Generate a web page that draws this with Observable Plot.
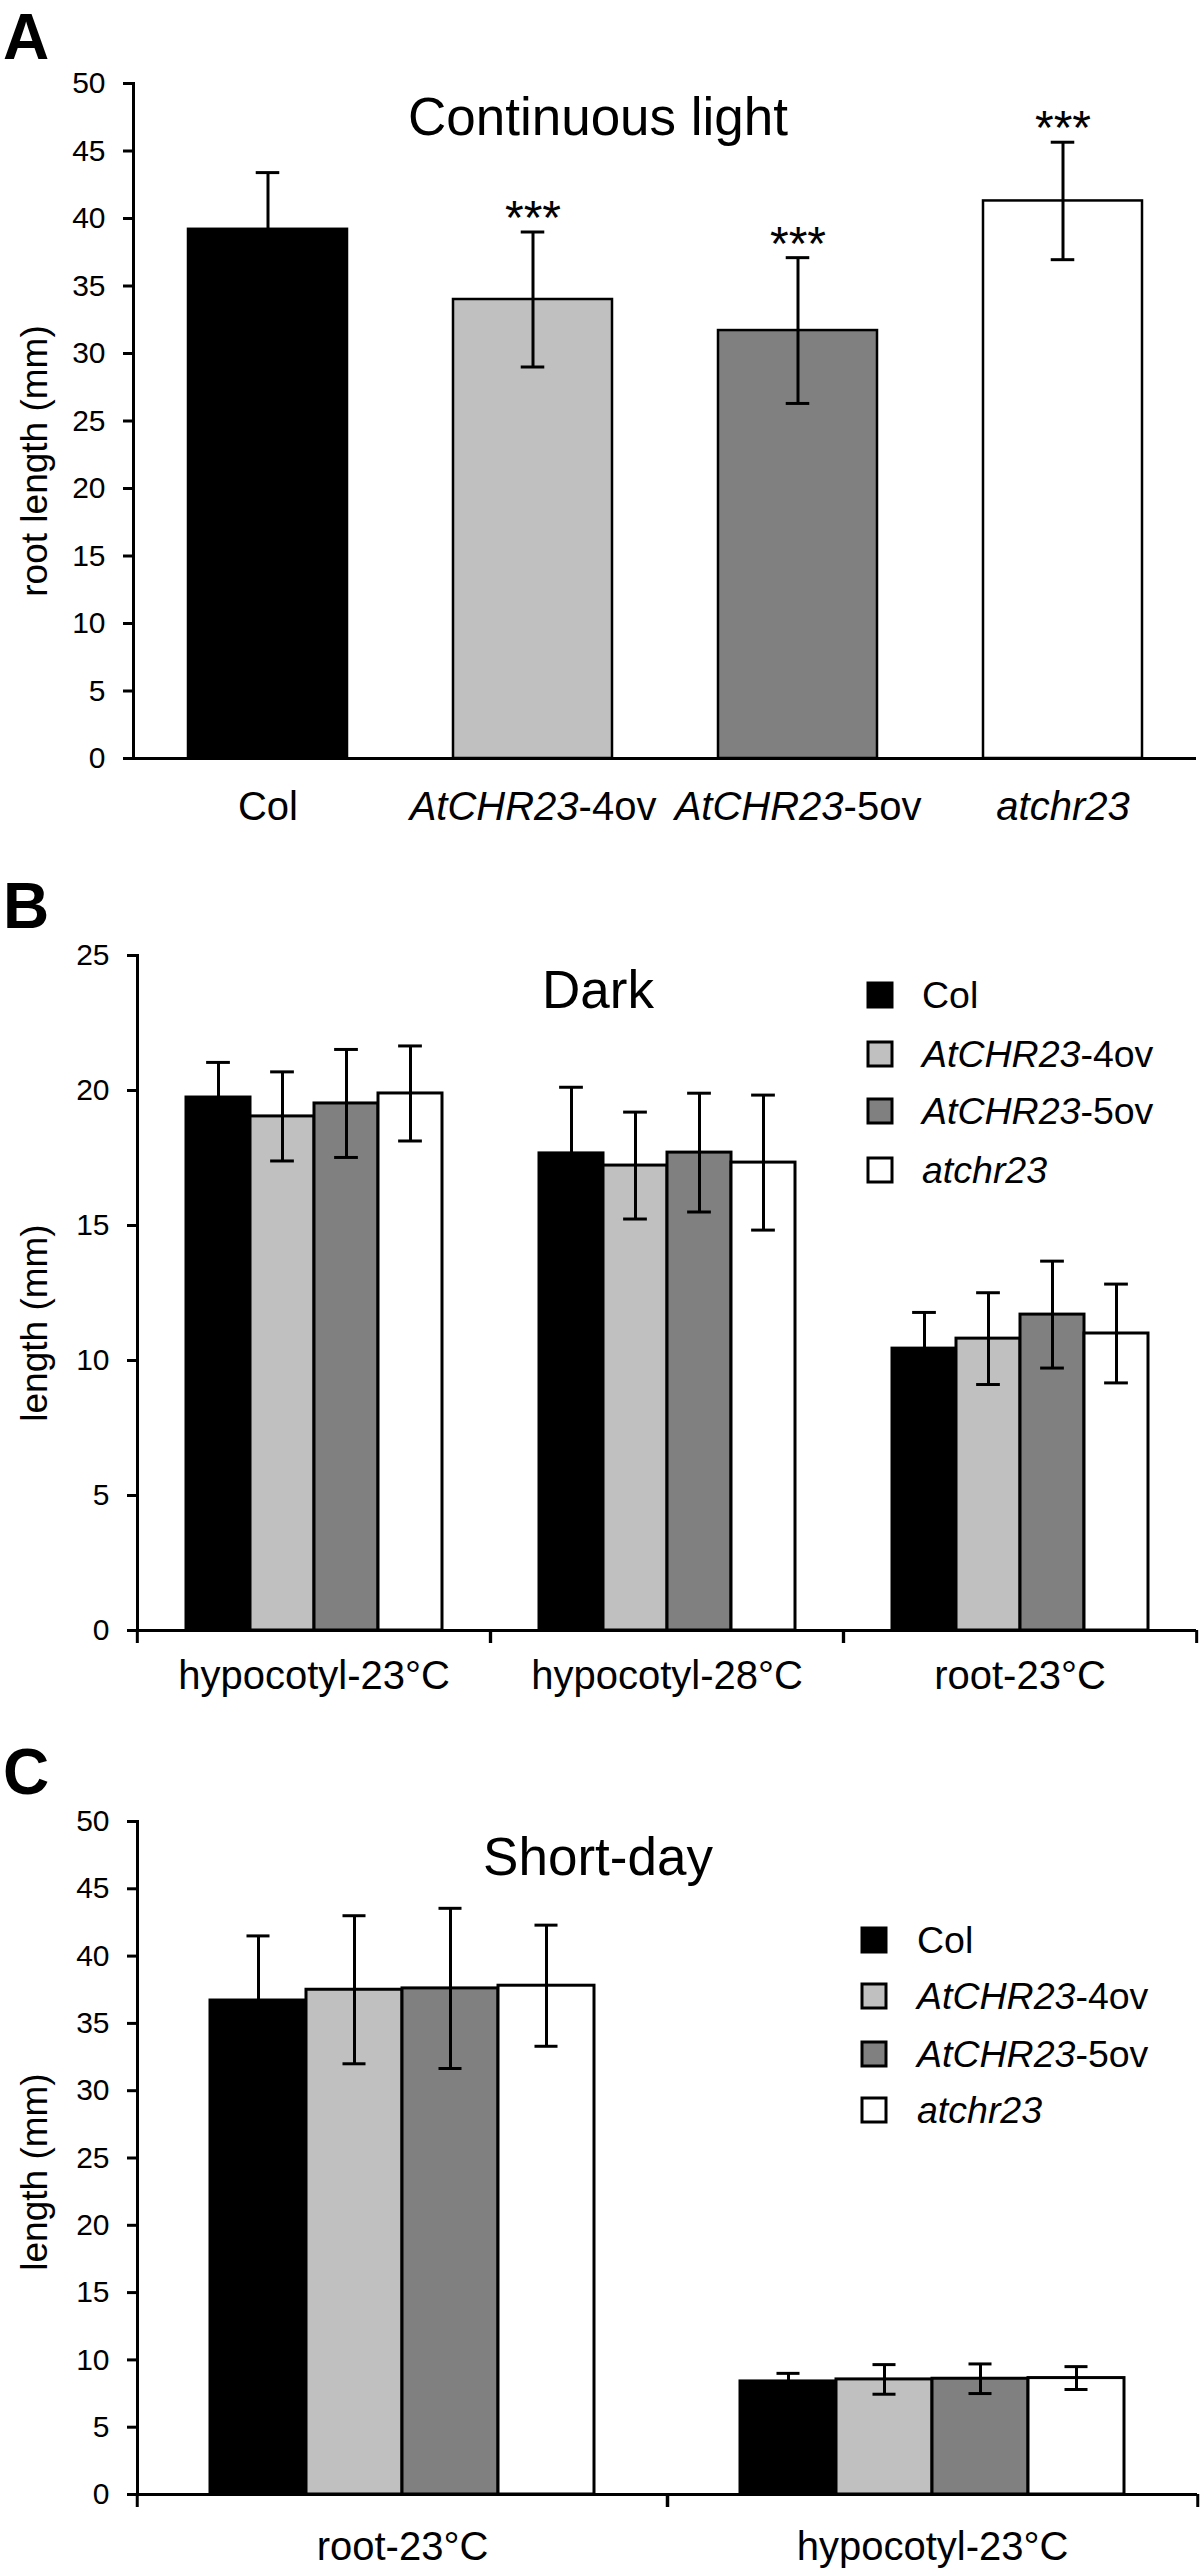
<!DOCTYPE html>
<html><head><meta charset="utf-8">
<script src="https://cdn.jsdelivr.net/npm/d3@7"></script>
<script src="https://cdn.jsdelivr.net/npm/@observablehq/plot@0.6"></script>
<style>
html,body{margin:0;padding:0;background:#fff;}
#root{position:relative;width:1200px;height:2571px;background:#fff;font-family:"Liberation Sans",Arial,Helvetica,sans-serif;}
.panel{position:absolute;left:0;}
#overlay{position:absolute;left:0;top:0;pointer-events:none;}
</style></head><body><div id="root"></div>
<script>
const FONT = '"Liberation Sans", Arial, Helvetica, sans-serif';

// ---- shared ----
const genotypes = ["Col", "AtCHR23-4ov", "AtCHR23-5ov", "atchr23"];
const fills = ["#000000", "#c0c0c0", "#808080", "#ffffff"];

// ---- Panel A : Continuous light ----
const aTitle = "Continuous light";
const aMeans = [39.2, 34.0, 31.7, 41.3];
const aErrors = [4.2, 5.0, 5.4, 4.35];
const aStars = ["", "***", "***", "***"];
const aTicks = [0, 5, 10, 15, 20, 25, 30, 35, 40, 45, 50];
const aYLabel = "root length (mm)";

// ---- Panel B : Dark ----
const bTitle = "Dark";
const bGroups = ["hypocotyl-23°C", "hypocotyl-28°C", "root-23°C"];
const bMeans = [[19.74, 19.04, 19.52, 19.89], [17.67, 17.22, 17.70, 17.33], [10.44, 10.81, 11.70, 11.00]];
const bErrors = [[1.30, 1.65, 2.00, 1.76], [2.45, 1.98, 2.20, 2.50], [1.34, 1.70, 1.98, 1.83]];
const bTicks = [0, 5, 10, 15, 20, 25];
const bYLabel = "length (mm)";

// ---- Panel C : Short-day ----
const cTitle = "Short-day";
const cGroups = ["root-23°C", "hypocotyl-23°C"];
const cMeans = [[36.7, 37.5, 37.6, 37.8], [8.40, 8.55, 8.60, 8.65]];
const cErrors = [[4.8, 5.5, 5.95, 4.5], [0.6, 1.1, 1.1, 0.85]];
const cTicks = [0, 5, 10, 15, 20, 25, 30, 35, 40, 45, 50];
const cYLabel = "length (mm)";

const W = 1200, CAP = 24;

function rowsGrouped(groups, means, errs) {
  const out = [];
  groups.forEach((g, i) => genotypes.forEach((gt, j) => out.push({group: g, genotype: gt, mean: means[i][j], err: errs[i][j]})));
  return out;
}
const aRows = genotypes.map((gt, j) => ({genotype: gt, mean: aMeans[j], err: aErrors[j], star: aStars[j]}));
const bRows = rowsGrouped(bGroups, bMeans, bErrors);
const cRows = rowsGrouped(cGroups, cMeans, cErrors);

const colorScale = {domain: genotypes, range: fills};

// ---------- Panel A ----------
const aM = {l: 133, r: 4, t: 83, b: 92, h: 850};
const aPI = 0.4, aPO = 0.2;
const aBW = (W - aM.l - aM.r) / (genotypes.length - aPI + 2 * aPO) * (1 - aPI);
const aInset = (aBW - CAP) / 2;
const plotA = Plot.plot({
  width: W, height: aM.h,
  marginLeft: aM.l, marginRight: aM.r, marginTop: aM.t, marginBottom: aM.b,
  style: {fontFamily: FONT, background: "white", color: "black", overflow: "visible"},
  x: {domain: genotypes, paddingInner: aPI, paddingOuter: aPO},
  y: {domain: [0, 50]},
  color: colorScale,
  marks: [
    Plot.barY(aRows, {x: "genotype", y: "mean", fill: "genotype", stroke: "black", strokeWidth: 2.5}),
    Plot.ruleX(aRows, {x: "genotype", y1: d => d.mean - d.err, y2: d => d.mean + d.err, stroke: "black", strokeWidth: 3}),
    Plot.tickY(aRows, {x: "genotype", y: d => d.mean + d.err, insetLeft: aInset, insetRight: aInset, stroke: "black", strokeWidth: 3}),
    Plot.tickY(aRows, {x: "genotype", y: d => d.mean - d.err, insetLeft: aInset, insetRight: aInset, stroke: "black", strokeWidth: 3}),
    Plot.text(aRows.filter(d => d.star), {x: "genotype", y: d => d.mean + d.err, text: "star", lineAnchor: "bottom", dy: 2, fontSize: 48, fill: "black"}),
    Plot.ruleY([0], {stroke: "black", strokeWidth: 3, insetLeft: -10}),
    Plot.frame({anchor: "left", stroke: "black", strokeWidth: 3}),
    Plot.axisY({ticks: aTicks, tickSize: 10, tickPadding: 18, fontSize: 30, strokeWidth: 3, label: null, tickFormat: d => String(d)}),
    Plot.axisX({tickSize: 0, tickPadding: 33, fontSize: 40, label: null})
  ]
});

// ---------- grouped panels ----------
function groupedPlot(rows, groups, ticks, ymax, m, po, tickPad) {
  const band = (W - m.l - m.r) / groups.length;
  const step = band / (genotypes.length + 2 * po);
  const inset = (step - CAP) / 2;
  return Plot.plot({
    width: W, height: m.h,
    marginLeft: m.l, marginRight: m.r, marginTop: m.t, marginBottom: m.b,
    style: {fontFamily: FONT, background: "white", color: "black", overflow: "visible"},
    fx: {domain: groups, padding: 0},
    x: {domain: genotypes, paddingInner: 0, paddingOuter: po, axis: null},
    y: {domain: [0, ymax]},
    color: colorScale,
    marks: [
      Plot.barY(rows, {fx: "group", x: "genotype", y: "mean", fill: "genotype", stroke: "black", strokeWidth: 3}),
      Plot.ruleX(rows, {fx: "group", x: "genotype", y1: d => d.mean - d.err, y2: d => d.mean + d.err, stroke: "black", strokeWidth: 3}),
      Plot.tickY(rows, {fx: "group", x: "genotype", y: d => d.mean + d.err, insetLeft: inset, insetRight: inset, stroke: "black", strokeWidth: 3}),
      Plot.tickY(rows, {fx: "group", x: "genotype", y: d => d.mean - d.err, insetLeft: inset, insetRight: inset, stroke: "black", strokeWidth: 3}),
      Plot.ruleY([0], {stroke: "black", strokeWidth: 3}),
      Plot.frame({anchor: "left", facetAnchor: "left", stroke: "black", strokeWidth: 3}),
      Plot.axisY({ticks: ticks, tickSize: 10, tickPadding: 18, fontSize: 30, strokeWidth: 3, label: null, tickFormat: d => String(d)}),
      Plot.axisFx({anchor: "bottom", tickSize: 0, tickPadding: tickPad, fontSize: 40, label: null}),
      Plot.axisFx({anchor: "bottom", tickSize: 13, text: null, dx: -band / 2, strokeWidth: 3, label: null}),
      Plot.axisFx([groups[groups.length - 1]], {anchor: "bottom", tickSize: 13, text: null, dx: band / 2, strokeWidth: 3, label: null})
    ]
  });
}
const bM = {l: 136, r: 4, t: 105, b: 90, h: 870};
const cM = {l: 136, r: 3, t: 101, b: 77, h: 851};
const plotB = groupedPlot(bRows, bGroups, bTicks, 25, bM, 0.75, 30);
const plotC = groupedPlot(cRows, cGroups, cTicks, 50, cM, 0.735, 37);

const root = document.getElementById("root");
[[plotA, 0], [plotB, 850], [plotC, 1720]].forEach(([p, top]) => {
  const d = document.createElement("div");
  d.className = "panel"; d.style.top = top + "px";
  d.appendChild(p); root.appendChild(d);
});

// italic gene names in labels
function italicize(sel) {
  sel.each(function() {
    const t = this.textContent;
    const m = /^(AtCHR23)(-\dov)$/.exec(t);
    if (m) {
      const s = d3.select(this); s.text(null);
      s.append("tspan").attr("font-style", "italic").text(m[1]);
      s.append("tspan").text(m[2]);
    } else if (t === "atchr23") {
      d3.select(this).attr("font-style", "italic");
    }
  });
}
italicize(d3.select(plotA).selectAll("text"));

// ---- overlay: panel letters, titles, y titles, legends ----
const ov = d3.select(root).append("svg").attr("id", "overlay")
  .attr("width", W).attr("height", 2571)
  .attr("font-family", FONT).attr("fill", "black");

[["A", 59], ["B", 928], ["C", 1794]].forEach(([t, y]) =>
  ov.append("text").attr("x", 3).attr("y", y).attr("font-size", 64).attr("font-weight", "bold").text(t));

[[aTitle, 135], [bTitle, 1008], [cTitle, 1875]].forEach(([t, y]) =>
  ov.append("text").attr("x", 598).attr("y", y).attr("text-anchor", "middle").attr("font-size", 53).text(t));

[[aYLabel, 461], [bYLabel, 1323], [cYLabel, 2172]].forEach(([t, y]) =>
  ov.append("text").attr("transform", `translate(47,${y}) rotate(-90)`).attr("text-anchor", "middle").attr("font-size", 37).text(t));

function legend(x, ys, tx) {
  const g = ov.append("g");
  genotypes.forEach((gt, i) => {
    g.append("rect").attr("x", x).attr("y", ys[i] - 12).attr("width", 24).attr("height", 24)
      .attr("fill", fills[i]).attr("stroke", "black").attr("stroke-width", 3);
    g.append("text").attr("x", tx).attr("y", ys[i] + 13).attr("font-size", 37.5).text(gt);
  });
  italicize(g.selectAll("text"));
}
legend(868, [995, 1054, 1111, 1170], 922);
legend(862, [1940, 1996, 2054, 2110], 917);
</script></body></html>
